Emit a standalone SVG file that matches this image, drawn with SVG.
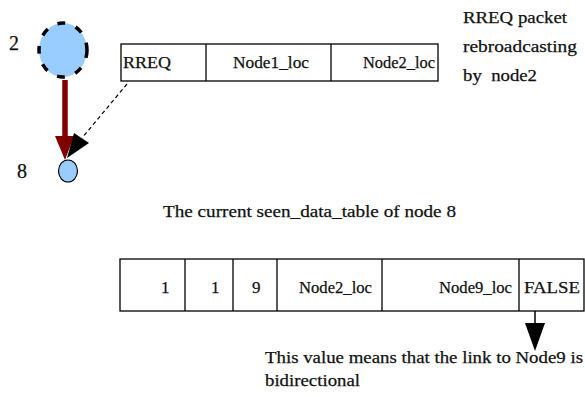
<svg xmlns="http://www.w3.org/2000/svg" width="585" height="397" viewBox="0 0 585 397" font-family="'Liberation Serif', 'DejaVu Serif', serif">
<style>
text{font-family:'Liberation Serif','DejaVu Serif',serif;fill:#111;stroke:#111;stroke-width:0.25;font-size:17px;white-space:pre}
.lbl{font-size:20px}
.cell{fill:#fff;stroke:#000;stroke-width:1.3}
.div{stroke:#000;stroke-width:1.3}
.node{fill:#99ccff}
</style>
<rect width="585" height="397" fill="#fff"/>
<g id="node2">
<ellipse class="node" cx="63" cy="50" rx="24" ry="27" stroke="#000" stroke-width="3.5" stroke-dasharray="8 11"/>
<text class="lbl" x="9" y="50">2</text>
</g>
<g id="node8">
<ellipse class="node" cx="68" cy="171" rx="9.5" ry="11" stroke="#000" stroke-width="1.2"/>
<text class="lbl" x="17" y="178">8</text>
</g>
<g id="rreq-packet">
<rect class="cell" x="121" y="44" width="317" height="37"/>
<line class="div" x1="206" y1="44" x2="206" y2="81"/>
<line class="div" x1="331" y1="44" x2="331" y2="81"/>
<text x="123" y="68" textLength="48" lengthAdjust="spacingAndGlyphs">RREQ</text>
<text x="233" y="68" textLength="76" lengthAdjust="spacingAndGlyphs">Node1_loc</text>
<text x="363" y="68" textLength="72" lengthAdjust="spacingAndGlyphs">Node2_loc</text>
</g>
<g id="caption-top">
<text x="463" y="23" textLength="104" lengthAdjust="spacingAndGlyphs">RREQ packet</text>
<text x="463" y="52" textLength="114" lengthAdjust="spacingAndGlyphs">rebroadcasting</text>
<text x="463" y="81" textLength="74" lengthAdjust="spacingAndGlyphs">by  node2</text>
</g>
<g id="table-title">
<text x="163" y="217" textLength="293" lengthAdjust="spacingAndGlyphs">The current seen_data_table of node 8</text>
</g>
<g id="seen-table">
<rect class="cell" x="120" y="259" width="464" height="52"/>
<line class="div" x1="185" y1="259" x2="185" y2="311"/>
<line class="div" x1="233" y1="259" x2="233" y2="311"/>
<line class="div" x1="277" y1="259" x2="277" y2="311"/>
<line class="div" x1="382" y1="259" x2="382" y2="311"/>
<line class="div" x1="519" y1="259" x2="519" y2="311"/>
<text x="161" y="293">1</text>
<text x="211" y="293">1</text>
<text x="252" y="293">9</text>
<text x="299" y="293" textLength="73" lengthAdjust="spacingAndGlyphs">Node2_loc</text>
<text x="439" y="293" textLength="73" lengthAdjust="spacingAndGlyphs">Node9_loc</text>
<text x="524" y="293" textLength="56" lengthAdjust="spacingAndGlyphs">FALSE</text>
</g>
<g id="note">
<text x="265" y="363" textLength="318" lengthAdjust="spacingAndGlyphs">This value means that the link to Node9 is</text>
<text x="265" y="386" textLength="95" lengthAdjust="spacingAndGlyphs">bidirectional</text>
</g>
<g id="connectors">
<line x1="65" y1="80" x2="65" y2="138" stroke="#800000" stroke-width="5.5"/>
<polygon points="55,136 74,136 65,160" fill="#800000"/>
<line x1="127" y1="84" x2="82" y2="138" stroke="#000" stroke-width="1.2" stroke-dasharray="4 3"/>
<polygon points="67,158 74,133 89,143" fill="#000"/>
<line x1="535" y1="311" x2="535" y2="325" stroke="#000" stroke-width="1.5"/>
<polygon points="525,323 545,323 535,351" fill="#000"/>
</g>
</svg>
